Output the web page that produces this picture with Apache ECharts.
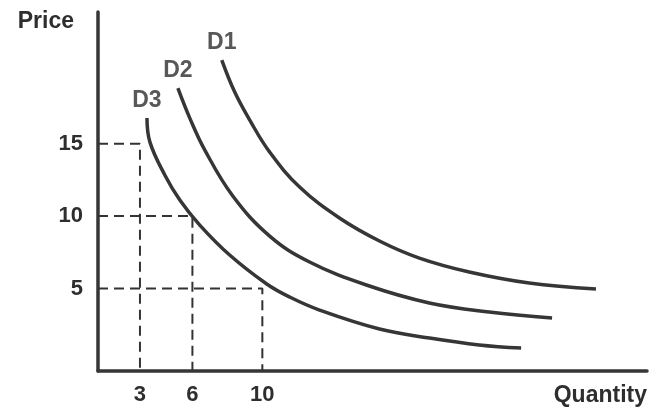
<!DOCTYPE html>
<html>
<head>
<meta charset="utf-8">
<script src="https://cdn.jsdelivr.net/npm/echarts@6/dist/echarts.min.js"></script>
<style>
  html, body { margin: 0; padding: 0; background: #fff; }
  #chart { width: 650px; height: 418px; }
</style>
</head>
<body>
<div id="chart"></div>
<script>
// demand curves, [quantity, price]
const d1 = [[7.68, 20.78], [8.42, 18.57], [9.28, 16.63], [10.42, 14.42], [12.13, 12.01], [14.41, 9.87], [16.7, 8.28], [18.98, 7.1], [21.83, 6.14], [25.26, 5.38], [29.08, 4.96]]
const d2 = [[5.17, 18.84], [5.85, 16.77], [6.71, 14.56], [8.31, 11.39], [10.42, 8.62], [12.7, 6.83], [15.95, 5.24], [19.55, 4.0], [22.97, 3.37], [26.57, 2.96]]
const d3 = [[3.4, 16.77], [3.57, 15.11], [4.42, 12.84], [5.28, 11.11], [6.42, 9.38], [8.13, 7.31], [10.25, 5.31], [11.56, 4.41], [13.27, 3.51], [16.7, 2.2], [19.55, 1.58], [22.4, 1.1], [24.8, 0.89]]
const curveNames = ['D1', 'D2', 'D3']

// dashed guides from the price axis to D3 and down to the quantity axis
const guideQ = [3, 6, 10]
const guideP = [15, 10, 5]

const qTicks = [3, 6, 10]
const pTicks = [5, 10, 15]

const qMin = 0.6
const qMax = 32
const pMin = -0.7
const pMax = 24.1

const ink = '#363636'
const textColor = '#2e2e2e'
const font = "'Liberation Sans', Arial, sans-serif"

const chart = echarts.init(document.getElementById('chart'))

const curveSeries = [d1, d2, d3].map((pts, i) => ({
  name: curveNames[i],
  type: 'line',
  data: pts,
  smooth: 0.4,
  symbol: 'none',
  lineStyle: { color: ink, width: 3.5 },
  z: 3
}))

const guideSeries = guideQ.map((q, i) => ({
  type: 'line',
  data: [[qMin, guideP[i]], [q, guideP[i]], [q, pMin]],
  symbol: 'none',
  lineStyle: { color: '#333', width: 2, type: [10, 6] },
  z: 2
}))

const labelSeries = {
  type: 'scatter',
  symbolSize: 0,
  data: [d1, d2, d3].map((pts, i) => [pts[0][0], pts[0][1], curveNames[i]]),
  label: {
    show: true,
    position: 'top',
    distance: 6,
    formatter: p => p.value[2],
    color: textColor,
    fontFamily: font,
    fontWeight: 'bold',
    fontSize: 23
  }
}

const option = {
  backgroundColor: '#fff',
  animation: false,
  grid: { left: 98, right: 2, top: 12, bottom: 47 },
  xAxis: {
    type: 'value',
    min: qMin,
    max: qMax,
    name: 'Quantity',
    nameLocation: 'end',
    nameGap: 0,
    nameTextStyle: {
      align: 'right',
      verticalAlign: 'top',
      padding: [13, 0, 0, 0],
      color: textColor,
      fontFamily: font,
      fontWeight: 'bold',
      fontSize: 23
    },
    axisLine: { onZero: false, lineStyle: { color: ink, width: 3.5 } },
    axisTick: { show: false },
    splitLine: { show: false },
    axisLabel: {
      customValues: qTicks,
      margin: 13,
      color: textColor,
      fontFamily: font,
      fontWeight: 'bold',
      fontSize: 22
    }
  },
  yAxis: {
    type: 'value',
    min: pMin,
    max: pMax,
    name: 'Price',
    nameLocation: 'end',
    nameGap: -10,
    nameTextStyle: {
      align: 'right',
      verticalAlign: 'middle',
      padding: [0, 24, 0, 0],
      color: textColor,
      fontFamily: font,
      fontWeight: 'bold',
      fontSize: 23
    },
    axisLine: { onZero: false, lineStyle: { color: ink, width: 3.5 } },
    axisTick: { show: false },
    splitLine: { show: false },
    axisLabel: {
      customValues: pTicks,
      margin: 15,
      color: textColor,
      fontFamily: font,
      fontWeight: 'bold',
      fontSize: 22
    }
  },
  series: [...curveSeries, ...guideSeries, labelSeries]
}

chart.setOption(option)
</script>
</body>
</html>
